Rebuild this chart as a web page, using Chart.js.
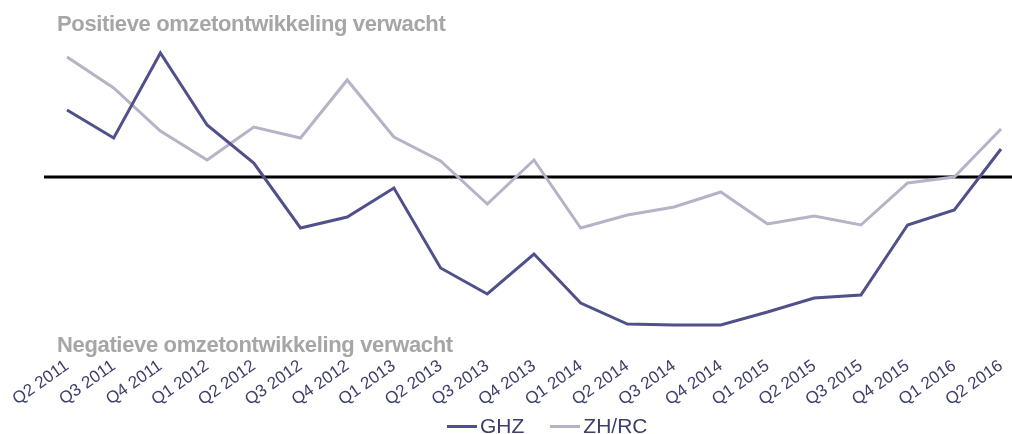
<!DOCTYPE html>
<html>
<head>
<meta charset="utf-8">
<script src="https://cdn.jsdelivr.net/npm/chart.js@4"></script>
<style>
  html, body { margin: 0; padding: 0; background: #fff; }
  #wrap { width: 1012px; height: 434px; position: relative; }
  #legend {
    position: absolute; left: 447px; top: 414px; height: 24px;
    display: flex; align-items: center;
    font: 21px "Liberation Sans", Arial, sans-serif; line-height: 24px; color: #3f3f6b;
  }
  #legend .item { display: flex; align-items: center; margin-right: 26px; }
  #legend .swatch { width: 30px; height: 3px; margin-right: 3px; }
</style>
</head>
<body>
<div id="wrap"><canvas id="myChart"></canvas><div id="legend"></div></div>
<script>
const quarters = ['Q2 2011', 'Q3 2011', 'Q4 2011', 'Q1 2012', 'Q2 2012', 'Q3 2012', 'Q4 2012',
    'Q1 2013', 'Q2 2013', 'Q3 2013', 'Q4 2013', 'Q1 2014', 'Q2 2014', 'Q3 2014', 'Q4 2014',
    'Q1 2015', 'Q2 2015', 'Q3 2015', 'Q4 2015', 'Q1 2016', 'Q2 2016'];
const ghz = [6.7, 3.9, 12.4, 5.2, 1.4, -5.1, -4.0, -1.1, -9.1, -11.7, -7.7, -12.6, -14.7, -14.8, -14.8,
    -13.5, -12.1, -11.8, -4.8, -3.3, 2.8];
const zhrc = [12.0, 8.9, 4.6, 1.7, 5.0, 3.9, 9.7, 4.0, 1.6, -2.7, 1.7, -5.1, -3.8, -3.0, -1.5,
    -4.7, -3.9, -4.8, -0.6, 0.0, 4.8];
const topText = 'Positieve omzetontwikkeling verwacht';
const bottomText = 'Negatieve omzetontwikkeling verwacht';

const ctx = document.getElementById('myChart').getContext('2d');

// zero line + the two grey captions
const extras = {
    id: 'extras',
    beforeDatasetsDraw(chart) {
        const c = chart.ctx;
        const y = chart.scales.y.getPixelForValue(0);
        c.save();
        c.strokeStyle = '#000';
        c.lineWidth = 3;
        c.beginPath();
        c.moveTo(44, y);
        c.lineTo(chart.width, y);
        c.stroke();
        c.restore();
    },
    afterDraw(chart) {
        const c = chart.ctx;
        c.save();
        c.fillStyle = '#a6a6a6';
        c.font = 'bold 22px "Liberation Sans", Arial, sans-serif';
        c.letterSpacing = '-0.35px';
        c.textBaseline = 'alphabetic';
        c.fillText(topText, 57, 31);
        c.fillText(bottomText, 57, 352);
        c.restore();
    }
};

const chart = new Chart(ctx, {
    type: 'line',
    data: {
        labels: quarters,
        datasets: [{
            label: 'GHZ',
            data: ghz,
            borderColor: '#50508a',
            backgroundColor: '#50508a',
            borderWidth: 3,
            pointRadius: 0,
            tension: 0
        }, {
            label: 'ZH/RC',
            data: zhrc,
            borderColor: '#b5b3c6',
            backgroundColor: '#b5b3c6',
            borderWidth: 3,
            pointRadius: 0,
            tension: 0
        }]
    },
    options: {
        responsive: true,
        maintainAspectRatio: false,
        animation: false,
        layout: { padding: { left: 67, right: 11, top: 42, bottom: 0 } },
        scales: {
            x: {
                offset: false,
                grid: { display: false, drawTicks: false },
                border: { display: false },
                ticks: {
                    color: '#3f3f6b',
                    font: { family: '"Liberation Sans", Arial, sans-serif', size: 17 },
                    minRotation: 35,
                    maxRotation: 35,
                    autoSkip: false,
                    padding: 14
                },
                afterFit(axis) {
                    axis.height = 92;
                    axis.paddingLeft = 0;
                    axis.paddingRight = 0;
                }
            },
            y: {
                display: false,
                min: -16.5,
                max: 13.5
            }
        },
        plugins: {
            legend: { display: false },
            tooltip: { enabled: false }
        }
    },
    plugins: [extras]
});

// simple legend matching the original's layout
const legendEl = document.getElementById('legend');
chart.data.datasets.forEach((ds) => {
    const item = document.createElement('span');
    item.className = 'item';
    const sw = document.createElement('span');
    sw.className = 'swatch';
    sw.style.background = ds.borderColor;
    item.appendChild(sw);
    item.appendChild(document.createTextNode(ds.label));
    legendEl.appendChild(item);
});
</script>
</body>
</html>
